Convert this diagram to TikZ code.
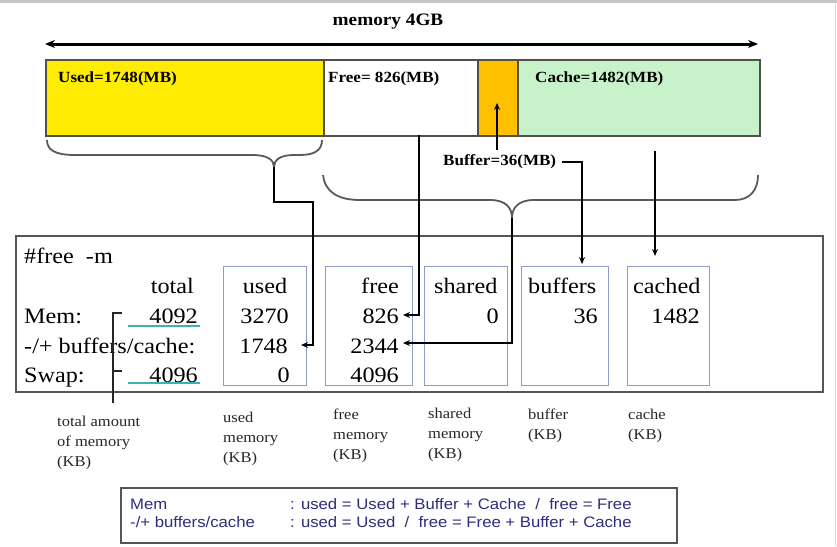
\documentclass[tikz,border=0pt]{standalone}
\usepackage{fontspec}
\setmainfont{Liberation Serif}[FakeStretch=1.1]
\newfontfamily\arialf{Liberation Sans}[FakeStretch=1.1]
\usetikzlibrary{arrows.meta,calc}
\definecolor{usedy}{RGB}{255,236,0}
\definecolor{bufo}{RGB}{255,192,0}
\definecolor{cacheg}{RGB}{200,242,202}
\definecolor{colbx}{RGB}{140,155,200}
\definecolor{tealu}{RGB}{64,176,176}
\definecolor{navyt}{RGB}{45,45,125}
\definecolor{frameg}{RGB}{85,85,85}
\definecolor{braceg}{RGB}{90,90,90}
\definecolor{barb}{RGB}{80,80,70}
\begin{document}
\begin{tikzpicture}[x=1pt,y=-1pt,
  bar/.style={draw=barb, line width=1.6pt, inner sep=0pt, anchor=north west, minimum height=76pt},
  barlbl/.style={inner sep=0pt, anchor=base west, font=\fontsize{15.5}{18}\selectfont\bfseries},
  tt/.style={inner sep=0pt, font=\fontsize{22}{26}\selectfont},
  tr/.style={tt, anchor=base east},
  tl/.style={tt, anchor=base west},
  colbox/.style={draw=colbx, line width=1.2pt, inner sep=0pt, anchor=north west, minimum height=119pt},
  note/.style={inner sep=0pt, anchor=north west, align=left, text=black!85, font=\fontsize{15}{20}\selectfont},
  conn/.style={draw=black, line width=2.2pt},
  tip/.style={-{Stealth[length=7pt,width=6pt]}},
  bracelook/.style={draw=braceg, line width=1.8pt},
  boxtxt/.style={inner sep=0pt, anchor=base west, text=navyt, font=\arialf\fontsize{15.2}{18}\selectfont}]
\useasboundingbox (0,0) rectangle (837,546);
\fill[white] (0,0) rectangle (837,546);
\fill[black!22] (0,0) rectangle (837,3);
\draw[black!15, line width=1pt] (835,3) -- (835,546);

% title and span arrow
\node[inner sep=0pt, anchor=base, font=\fontsize{17.5}{20}\selectfont\bfseries] (title) at (388,25) {memory 4GB};
\coordinate (spanl) at (45,44);
\coordinate (spanr) at (758,44);
\draw[line width=3pt, {Stealth[length=10pt,width=8pt]}-{Stealth[length=10pt,width=8pt]}] (spanl) -- (spanr);

% memory bar
\node[bar, fill=usedy, minimum width=278pt] (usedbar) at (45,59) {};
\node[bar, fill=white, minimum width=154pt] (freebar) at (323,59) {};
\node[bar, fill=cacheg, minimum width=242pt] (cachebar) at (517,59) {};
\node[bar, fill=bufo, minimum width=40pt] (bufbar) at (477,59) {};
\node[barlbl] (usedlbl) at (58,82) {Used=1748(MB)};
\node[barlbl] (freelbl) at (328,82) {Free= 826(MB)};
\node[barlbl] (cachelbl) at (535,82) {Cache=1482(MB)};
\node[barlbl] (buflbl) at (443,165) {Buffer=36(MB)};

% braces
\draw[bracelook] (47,140) .. controls (47,150) and (55,155) .. (75,155) -- (252,155)
  .. controls (268,155) and (274,160) .. (274,167)
  .. controls (274,160) and (280,155) .. (294,155) -- (300,155)
  .. controls (315,155) and (322,150) .. (322,140);
\draw[bracelook] (323,175) .. controls (325,192) and (338,200) .. (360,200) -- (490,200)
  .. controls (506,200) and (512,208) .. (512,218)
  .. controls (512,208) and (518,200) .. (534,200) -- (735,200)
  .. controls (750,200) and (758,190) .. (758,175);

% free -m output frame
\node[draw=frameg, line width=2pt, inner sep=0pt, anchor=north west, minimum width=807pt, minimum height=156pt] (outframe) at (15,235) {};
\node[colbox, minimum width=83pt] (ucol) at (223,266) {};
\node[colbox, minimum width=87pt] (fcol) at (325,266) {};
\node[colbox, minimum width=83pt] (scol) at (424,266) {};
\node[colbox, minimum width=87pt] (bcol) at (521,266) {};
\node[colbox, minimum width=82pt] (ccol) at (627,266) {};

\node[tl] (cmd) at (24,263) {\#free\ \ -m};
\node[tr] (htotal) at (194,293) {total};
\node[tt, anchor=base] (hused) at (265,293) {used};
\node[tr] (hfree) at (399,293) {free};
\node[tl] (hshared) at (434,293) {shared};
\node[tl] (hbuf) at (528,293) {buffers};
\node[tl] (hcache) at (633,293) {cached};

\node[tl] (rmem) at (24,323) {Mem:};
\node[tr] (memtot) at (198,323) {4092};
\node[tr] (memused) at (289,323) {3270};
\node[tr] (memfree) at (399,323) {826};
\node[tr] (memshared) at (499,323) {0};
\node[tr] (membuf) at (598,323) {36};
\node[tr] (memcache) at (700,323) {1482};

\node[tl] (rbc) at (24,353) {-/+ buffers/cache:};
\node[tr] (bcused) at (288,353) {1748};
\node[tr] (bcfree) at (399,353) {2344};

\node[tl] (rswap) at (24,382) {Swap:};
\node[tr] (swtot) at (198,382) {4096};
\node[tr] (swused) at (290,382) {0};
\node[tr] (swfree) at (399,382) {4096};

% teal underlines and bracket
\draw[tealu, line width=2.2pt] (128,326) -- (200,326);
\draw[tealu, line width=2.2pt] (128,383) -- (200,383);
\coordinate (brt) at (122,313);
\coordinate (brc) at (113,313);
\coordinate (brb) at (113,403);
\coordinate (brs) at (122,371);
\draw[black!85, line width=1.1pt] (brt) -- (brc) -- (brb);
\draw[black!85, line width=1.1pt] (brs) -- (brs -| brc);

% connectors
\coordinate (usedtip) at (274,167);
\coordinate (u1) at (274,202);
\coordinate (u2) at (313,202);
\coordinate (u3) at (313,345);
\coordinate (u4) at (301,345);
\draw[conn, tip] (usedtip) -- (u1) -- (u2) -- (u3) -- (u4);

\coordinate (f0) at (419,135);
\coordinate (f1) at (419,315);
\coordinate (f2) at (403,315);
\draw[conn, tip] (f0) -- (f1) -- (f2);

\coordinate (freetip) at (512,218);
\coordinate (g1) at (512,343);
\coordinate (g2) at (403,343);
\draw[conn, tip] (freetip) -- (g1) -- (g2);

\coordinate (bu0) at (497,150);
\coordinate (bu1) at (497,103);
\draw[conn, tip] (bu0) -- (bu1);

\coordinate (bb0) at (562,162);
\coordinate (bb1) at (582,162);
\coordinate (bb2) at (582,264);
\draw[conn, tip] (bb0) -- (bb1) -- (bb2);

\coordinate (cc0) at (655,151);
\coordinate (cc1) at (655,256);
\draw[conn, tip] (cc0) -- (cc1);

% notes
\node[note] (ntotal) at (57,416) {total amount\\of memory\\(KB)};
\node[note] (nused) at (223,412) {used\\memory\\(KB)};
\node[note] (nfree) at (333,409) {free\\memory\\(KB)};
\node[note] (nshared) at (428,408) {shared\\memory\\(KB)};
\node[note] (nbuf) at (528,409) {buffer\\(KB)};
\node[note] (ncache) at (628,409) {cache\\(KB)};

% summary box
\node[draw=frameg, line width=1.8pt, inner sep=0pt, anchor=north west, minimum width=556pt, minimum height=55pt] (sumbox) at (120,487) {};
\node[boxtxt] (s1a) at (130,509) {Mem};
\node[boxtxt] (s1b) at (290,509) {: used = Used + Buffer + Cache\ \ /\ \ free = Free};
\node[boxtxt] (s2a) at (130,527) {-/+ buffers/cache};
\node[boxtxt] (s2b) at (290,527) {: used = Used\ \ /\ \ free = Free + Buffer + Cache};
\end{tikzpicture}
\end{document}
